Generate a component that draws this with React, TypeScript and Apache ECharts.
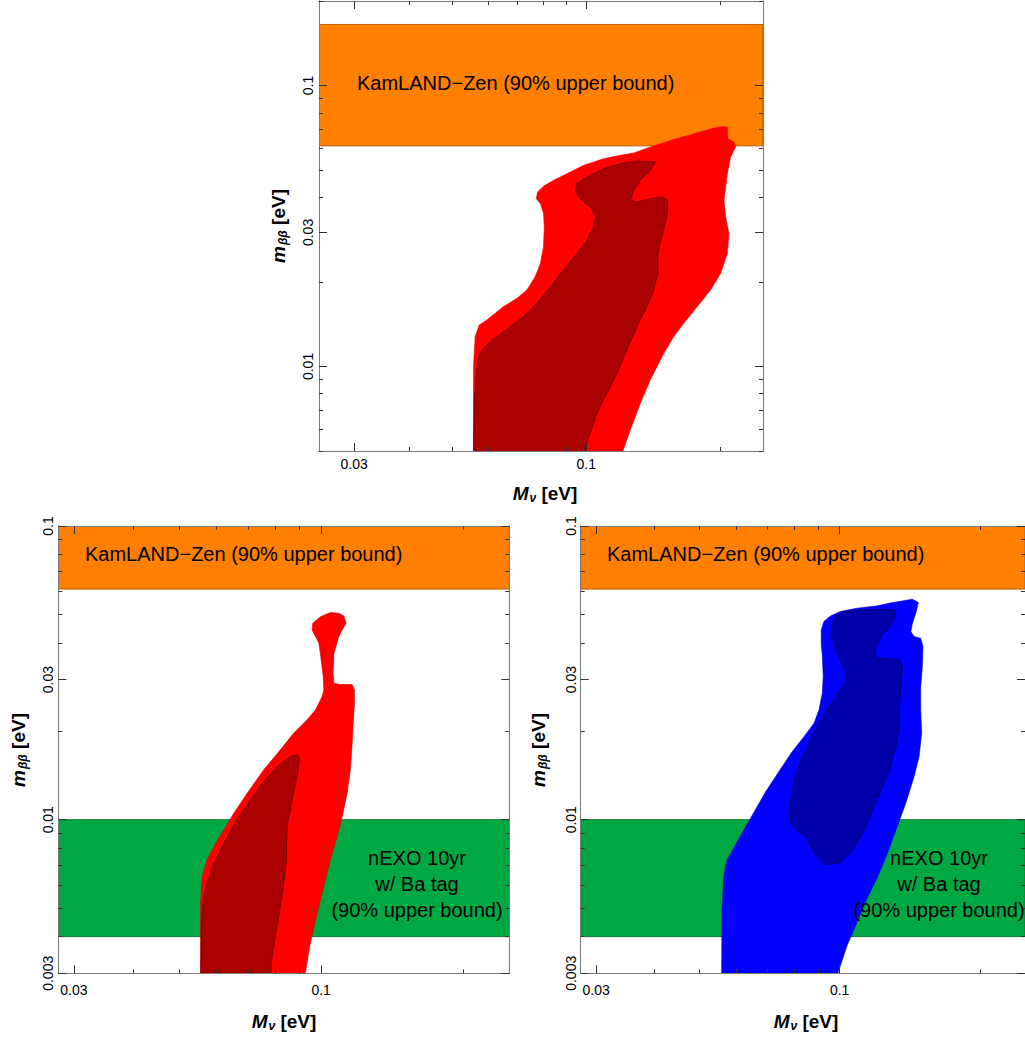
import React, { useEffect, useRef } from 'react';
import * as echarts from 'echarts';

// ---------- axis ticks (eV) ----------
const X_MAJOR = [0.03, 0.1];
const X_MAJOR_LABELS = ['0.03', '0.1'];
const X_MINOR = [0.04, 0.05, 0.06, 0.07, 0.08, 0.09, 0.2];
const Y_MAJOR_TOP = [0.01, 0.03, 0.1];
const Y_MAJOR_TOP_LABELS = ['0.01', '0.03', '0.1'];
const Y_MAJOR_BOTTOM = [0.003, 0.01, 0.03, 0.1];
const Y_MAJOR_BOTTOM_LABELS = ['0.003', '0.01', '0.03', '0.1'];
const Y_MINOR = [0.004, 0.005, 0.006, 0.007, 0.008, 0.009, 0.02, 0.04, 0.05, 0.06, 0.07, 0.08, 0.09, 0.2];

// ---------- bands (m_bb range, eV) ----------
const KAMLAND_BAND = [0.061, 0.165];
const NEXO_BAND = [0.004, 0.01];

// ---------- contours: [M_nu, m_bb] in eV ----------
const TOP_OUTER = [
  [0.0557, 0.0049], [0.0557, 0.0100], [0.0562, 0.01278], [0.0574, 0.01406], [0.0597, 0.01464],
  [0.0651, 0.01633], [0.0698, 0.01748], [0.0735, 0.01872], [0.0767, 0.02087], [0.0788, 0.02327],
  [0.0801, 0.02667], [0.0804, 0.03141], [0.0801, 0.03503], [0.0788, 0.03802], [0.0771, 0.0396],
  [0.0777, 0.04181], [0.0801, 0.04379], [0.0844, 0.046], [0.092, 0.04925], [0.0986, 0.052],
  [0.1094, 0.05491], [0.1193, 0.05644], [0.1279, 0.05753], [0.1394, 0.06041], [0.1547, 0.06378],
  [0.1747, 0.06736], [0.1938, 0.07055], [0.2024, 0.0715], [0.2078, 0.07113], [0.2084, 0.06466],
  [0.2151, 0.06292], [0.2169, 0.06041], [0.2114, 0.05567], [0.2078, 0.04858], [0.2042, 0.03906],
  [0.206, 0.03408], [0.2095, 0.02975], [0.2078, 0.02526], [0.2007, 0.02145], [0.1905, 0.01872],
  [0.1778, 0.01633], [0.1658, 0.01425], [0.1574, 0.01278], [0.1495, 0.01115], [0.1394, 0.00897],
  [0.1324, 0.00741], [0.1257, 0.00596], [0.1204, 0.0049],
];
const TOP_INNER = [
  [0.0557, 0.0049], [0.0559, 0.00762], [0.0567, 0.0100], [0.0576, 0.01115], [0.0586, 0.01162],
  [0.0628, 0.01278], [0.0674, 0.01387], [0.0722, 0.01505], [0.0774, 0.01679], [0.083, 0.01923],
  [0.0889, 0.02204], [0.0953, 0.02526], [0.1003, 0.02817], [0.1039, 0.03141], [0.1048, 0.03408],
  [0.1021, 0.03698], [0.0978, 0.03906], [0.0945, 0.04181], [0.0953, 0.04476], [0.1003, 0.04727],
  [0.1094, 0.0506], [0.1193, 0.05272], [0.1301, 0.05389], [0.1431, 0.05344], [0.1394, 0.04992],
  [0.1324, 0.046], [0.1279, 0.04238], [0.1257, 0.03906], [0.1301, 0.03854], [0.1394, 0.0396],
  [0.1482, 0.04015], [0.1526, 0.03906], [0.1521, 0.03503], [0.1495, 0.03057], [0.1464, 0.02741],
  [0.1449, 0.02458], [0.1449, 0.02145], [0.1419, 0.01872], [0.1371, 0.01633], [0.1301, 0.01387],
  [0.1235, 0.01146], [0.1173, 0.00947], [0.1113, 0.00804], [0.1057, 0.00683], [0.1021, 0.0058],
  [0.1003, 0.00542], [0.0995, 0.0049],
];
const LEFT_OUTER = [
  [0.0556, 0.0029], [0.0556, 0.00521], [0.056, 0.00642], [0.0574, 0.00731], [0.0593, 0.00812],
  [0.0623, 0.00925], [0.0654, 0.01054], [0.0698, 0.01232], [0.0756, 0.01479], [0.082, 0.0173],
  [0.0875, 0.01972], [0.0934, 0.02188], [0.0973, 0.02366], [0.1005, 0.02627], [0.1013, 0.02768],
  [0.101, 0.03073], [0.0998, 0.03594], [0.0989, 0.0399], [0.0973, 0.04204], [0.0957, 0.04429],
  [0.096, 0.04666], [0.0998, 0.04916], [0.1046, 0.05072], [0.109, 0.05046], [0.1117, 0.04942],
  [0.1129, 0.04666], [0.1108, 0.04429], [0.109, 0.04204], [0.1064, 0.03689], [0.106, 0.03155],
  [0.1064, 0.02917], [0.1099, 0.02886], [0.1163, 0.02886], [0.1176, 0.02768], [0.1176, 0.02493],
  [0.1169, 0.02132], [0.1163, 0.01823], [0.1153, 0.01479], [0.1135, 0.01232], [0.1108, 0.01026],
  [0.1081, 0.00878], [0.1046, 0.00731], [0.1013, 0.00593], [0.0981, 0.00481], [0.0949, 0.00381],
  [0.0922, 0.0029],
];
const LEFT_INNER = [
  [0.0556, 0.0029], [0.0558, 0.00434], [0.0563, 0.00535], [0.0574, 0.00609], [0.0593, 0.00712],
  [0.0623, 0.00833], [0.0664, 0.0100], [0.0709, 0.01169], [0.0756, 0.0135], [0.0807, 0.01518],
  [0.0861, 0.01642], [0.089, 0.01664], [0.09, 0.01621], [0.089, 0.01404], [0.0868, 0.01169],
  [0.085, 0.00974], [0.0845, 0.00833], [0.0845, 0.00731], [0.0834, 0.00609], [0.0818, 0.00494],
  [0.0801, 0.00401], [0.0788, 0.00343], [0.0781, 0.0029],
];
const RIGHT_OUTER = [
  [0.0558, 0.0029], [0.0559, 0.00494], [0.0564, 0.00642], [0.0573, 0.00731], [0.0587, 0.0078],
  [0.0617, 0.00901], [0.0647, 0.01026], [0.0691, 0.01232], [0.0737, 0.01441], [0.0787, 0.01686],
  [0.0839, 0.01921], [0.0881, 0.02132], [0.0903, 0.02366], [0.0918, 0.02697], [0.0922, 0.03073],
  [0.0918, 0.03594], [0.0913, 0.0399], [0.0913, 0.04429], [0.0925, 0.04727], [0.0956, 0.04942],
  [0.1003, 0.05112], [0.1088, 0.05248], [0.1199, 0.05345], [0.13, 0.05486], [0.1433, 0.05632],
  [0.1476, 0.05486], [0.1457, 0.05046], [0.1433, 0.04666], [0.1422, 0.04371], [0.1445, 0.04204],
  [0.1493, 0.04149], [0.151, 0.03887], [0.1505, 0.03323], [0.1493, 0.02842], [0.1493, 0.02366],
  [0.15, 0.01972], [0.1481, 0.01642], [0.1445, 0.01404], [0.1387, 0.01139], [0.1322, 0.00925],
  [0.1259, 0.0075], [0.1199, 0.00625], [0.1142, 0.00535], [0.1088, 0.00445], [0.1036, 0.00371],
  [0.0984, 0.0029],
];
const RIGHT_INNER = [
  [0.094, 0.00703], [0.0903, 0.00731], [0.0874, 0.00791], [0.0846, 0.00878], [0.0813, 0.00913],
  [0.0787, 0.00962], [0.078, 0.01081], [0.0787, 0.012], [0.0799, 0.01368], [0.0826, 0.016],
  [0.0867, 0.01871], [0.091, 0.02188], [0.0971, 0.02559], [0.1028, 0.02955], [0.1036, 0.03155],
  [0.1011, 0.03411], [0.0979, 0.03787], [0.0963, 0.04204], [0.0963, 0.04606], [0.0979, 0.04916],
  [0.102, 0.05112], [0.1124, 0.0518], [0.1239, 0.05207], [0.1311, 0.0518], [0.1322, 0.04916],
  [0.128, 0.04546], [0.1229, 0.04204], [0.1199, 0.03887], [0.119, 0.03594], [0.1209, 0.03547],
  [0.128, 0.03528], [0.1343, 0.03501], [0.1365, 0.03323], [0.1354, 0.02842], [0.1343, 0.02366],
  [0.1343, 0.02077], [0.1322, 0.01776], [0.128, 0.01479], [0.1229, 0.01265], [0.118, 0.01081],
  [0.1124, 0.00901], [0.1053, 0.0077], [0.0995, 0.00712],
];

// ---------- styling ----------
const FONT = '"Liberation Sans", Arial, sans-serif';
const FRAME = '#7a7a7a';
const TICK = '#333';
const ORANGE = '#ff8000';
const ORANGE_EDGE = '#b85c00';
const GREEN = '#00a844';
const GREEN_EDGE = '#007a30';
const RED = '#ff0000';
const DARK_RED = '#aa0000';
const BLUE = '#0000ff';
const DARK_BLUE = '#0000aa';

const L = Math.log10;

type Panel = {
  grid: { left: number; top: number; width: number; height: number };
  xr: number[];
  yr: number[];
  yMajor: number[];
  yMajorLabels: string[];
  xMargin: number;
  yMargin: number;
};

const PANELS: Panel[] = [
  { grid: { left: 319, top: 1, width: 444, height: 450 }, xr: [0.025, 0.25], yr: [0.005, 0.2],
    yMajor: Y_MAJOR_TOP, yMajorLabels: Y_MAJOR_TOP_LABELS, xMargin: 6, yMargin: 4 },
  { grid: { left: 58.3, top: 526, width: 451, height: 447.3 }, xr: [0.0278, 0.25], yr: [0.003, 0.1],
    yMajor: Y_MAJOR_BOTTOM, yMajorLabels: Y_MAJOR_BOTTOM_LABELS, xMargin: 10, yMargin: 3 },
  { grid: { left: 580.7, top: 526, width: 451, height: 447.3 }, xr: [0.0278, 0.25], yr: [0.003, 0.1],
    yMajor: Y_MAJOR_BOTTOM, yMajorLabels: Y_MAJOR_BOTTOM_LABELS, xMargin: 10, yMargin: 3 },
];

function fmt(values: number[], labels: string[]) {
  return (v: number) => {
    for (let i = 0; i < values.length; i++) if (Math.abs(L(values[i]) - v) < 1e-6) return labels[i];
    return '';
  };
}

function makeAxes(dim: 'x' | 'y', gi: number, p: Panel) {
  const range = dim === 'x' ? p.xr : p.yr;
  const major = dim === 'x' ? X_MAJOR : p.yMajor;
  const majorLabels = dim === 'x' ? X_MAJOR_LABELS : p.yMajorLabels;
  const minor = dim === 'x' ? X_MINOR : Y_MINOR;
  const inRange = (v: number) => v >= range[0] && v <= range[1];
  const base: any = {
    type: 'value', gridIndex: gi, min: L(range[0]), max: L(range[1]), z: 10,
    splitLine: { show: false },
    axisLine: { show: true, onZero: false, lineStyle: { color: FRAME, width: 1 } },
  };
  const pos1 = dim === 'x' ? 'bottom' : 'left';
  const pos2 = dim === 'x' ? 'top' : 'right';
  const majorTick = { show: true, inside: true, length: 8, customValues: major.filter(inRange).map(L), lineStyle: { color: TICK, width: 1 } };
  const minorTick = { show: true, inside: true, length: 4, customValues: minor.filter(inRange).map(L), lineStyle: { color: TICK, width: 1 } };
  const label = {
    show: true, customValues: major.filter(inRange).map(L), formatter: fmt(major, majorLabels),
    margin: dim === 'x' ? p.xMargin : p.yMargin, fontSize: 14, color: '#000', fontFamily: FONT,
    rotate: dim === 'y' ? 90 : 0,
  };
  return [
    { ...base, position: pos1, axisTick: majorTick, axisLabel: label },
    { ...base, position: pos1, axisTick: minorTick, axisLabel: { show: false } },
    { ...base, position: pos2, axisTick: majorTick, axisLabel: { show: false } },
    { ...base, position: pos2, axisTick: minorTick, axisLabel: { show: false } },
  ];
}

function clipOf(params: any) {
  const c = params.coordSys;
  return { type: 'rect', shape: { x: c.x, y: c.y, width: c.width, height: c.height } };
}

function polySeries(gi: number, pts: number[][], fill: string, stroke: string, lw: number, z: number) {
  return {
    type: 'custom', xAxisIndex: gi * 4, yAxisIndex: gi * 4, z, silent: true,
    data: [[L(pts[0][0]), L(pts[0][1])]],
    renderItem: (params: any, api: any) => ({
      type: 'polygon',
      shape: { points: pts.map(([a, b]) => api.coord([L(a), L(b)])) },
      style: { fill, stroke, lineWidth: lw },
      clipPath: clipOf(params),
    }),
  };
}

function bandSeries(gi: number, p: Panel, band: number[], fill: string, stroke: string) {
  return {
    type: 'custom', xAxisIndex: gi * 4, yAxisIndex: gi * 4, z: 1, silent: true,
    data: [[L(p.xr[0]), L(band[0])]],
    renderItem: (params: any, api: any) => {
      const a = api.coord([L(p.xr[0]), L(band[1])]);
      const b = api.coord([L(p.xr[1]), L(band[0])]);
      return {
        type: 'rect',
        shape: { x: a[0], y: a[1], width: b[0] - a[0], height: b[1] - a[1] },
        style: { fill, stroke, lineWidth: 1 },
        clipPath: clipOf(params),
      };
    },
  };
}

const titleRich = {
  i: { fontFamily: FONT, fontSize: 19, fontWeight: 'bold', fontStyle: 'italic', fill: '#000' },
  s: { fontFamily: FONT, fontSize: 12, fontWeight: 'bold', fontStyle: 'italic', fill: '#000', padding: [9, 0, 0, 1] },
  n: { fontFamily: FONT, fontSize: 19, fontWeight: 'bold', fill: '#000' },
};

function xTitle(x: number, y: number) {
  return { type: 'text', x, y, z: 20, style: { text: '{i|M}{s|ν}{n| [eV]}', rich: titleRich, align: 'center', verticalAlign: 'middle' } };
}
function yTitle(x: number, y: number) {
  return { type: 'text', x, y, rotation: Math.PI / 2, z: 20, style: { text: '{i|m}{s|ββ}{n| [eV]}', rich: titleRich, align: 'center', verticalAlign: 'middle' } };
}
function plainText(x: number, y: number, text: string, align: string) {
  return { type: 'text', x, y, z: 20, style: { text, fontFamily: FONT, fontSize: 20, fill: '#000', align, verticalAlign: 'middle', lineHeight: 26 } };
}

export default function App() {
  const ref = useRef<HTMLDivElement>(null);
  useEffect(() => {
    if (!ref.current) return;
    const chart = echarts.init(ref.current, undefined, { renderer: 'svg' });
    const xAxis: any[] = [];
    const yAxis: any[] = [];
    PANELS.forEach((p, i) => {
      xAxis.push(...makeAxes('x', i, p));
      yAxis.push(...makeAxes('y', i, p));
    });
    const series: any[] = [
      bandSeries(0, PANELS[0], KAMLAND_BAND, ORANGE, ORANGE_EDGE),
      polySeries(0, TOP_OUTER, RED, RED, 0.6, 3),
      polySeries(0, TOP_INNER, DARK_RED, 'rgba(60,0,0,0.8)', 0.7, 4),
      bandSeries(1, PANELS[1], KAMLAND_BAND, ORANGE, ORANGE_EDGE),
      bandSeries(1, PANELS[1], NEXO_BAND, GREEN, GREEN_EDGE),
      polySeries(1, LEFT_OUTER, RED, '#d00000', 0.6, 3),
      polySeries(1, LEFT_INNER, DARK_RED, 'rgba(60,0,0,0.8)', 0.7, 4),
      bandSeries(2, PANELS[2], KAMLAND_BAND, ORANGE, ORANGE_EDGE),
      bandSeries(2, PANELS[2], NEXO_BAND, GREEN, GREEN_EDGE),
      polySeries(2, RIGHT_OUTER, BLUE, '#0000d0', 0.6, 3),
      polySeries(2, RIGHT_INNER, DARK_BLUE, 'rgba(0,0,40,0.8)', 0.7, 4),
    ];
    const graphic: any[] = [
      plainText(357, 83, 'KamLAND−Zen (90% upper bound)', 'left'),
      plainText(85, 554, 'KamLAND−Zen (90% upper bound)', 'left'),
      plainText(607, 554, 'KamLAND−Zen (90% upper bound)', 'left'),
      plainText(417, 884, 'nEXO 10yr\nw/ Ba tag\n(90% upper bound)', 'center'),
      plainText(939, 884, 'nEXO 10yr\nw/ Ba tag\n(90% upper bound)', 'center'),
      xTitle(545, 493), xTitle(284, 1021), xTitle(806, 1021),
      yTitle(278, 226), yTitle(18, 750), yTitle(538, 750),
    ];
    chart.setOption({
      animation: false,
      backgroundColor: '#fff',
      grid: PANELS.map((p) => ({ ...p.grid, containLabel: false })),
      xAxis,
      yAxis,
      series,
      graphic,
    });
    return () => chart.dispose();
  }, []);
  return <div ref={ref} style={{ position: 'absolute', left: 0, top: 0, width: 1025, height: 1037 }} />;
}
